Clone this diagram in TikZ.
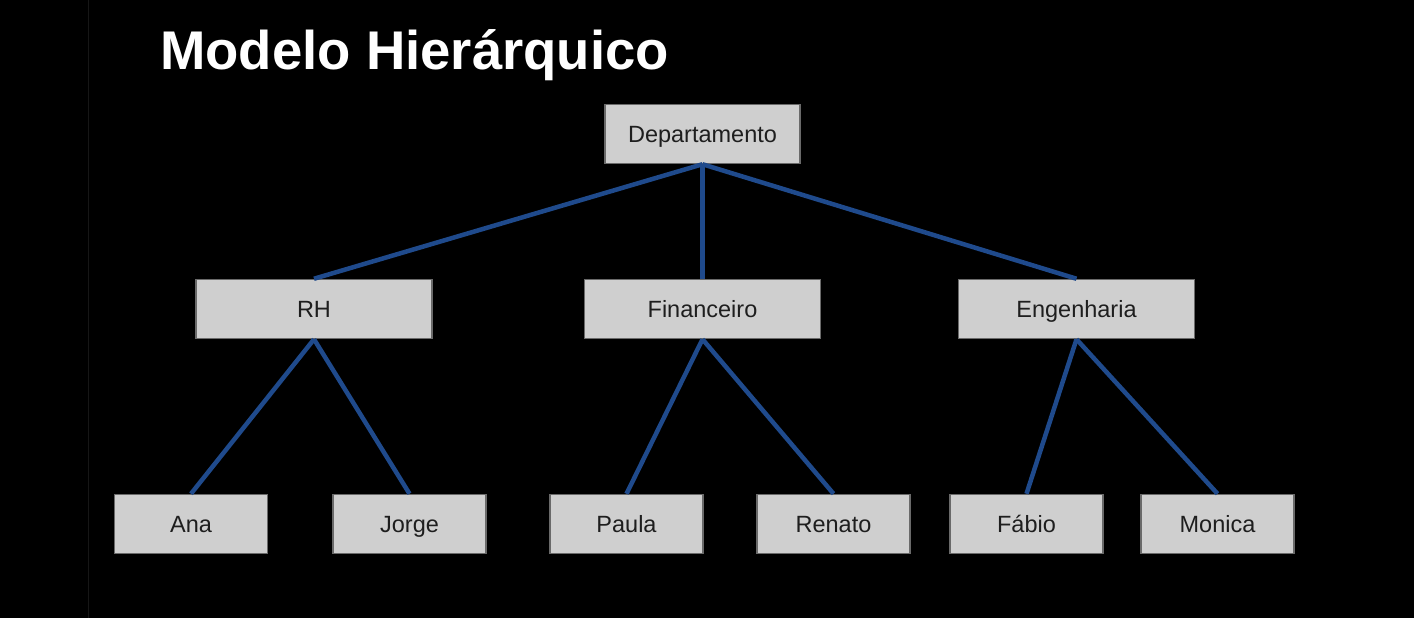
\documentclass[tikz,border=0pt]{standalone}
\usepackage{fontspec}
\setmainfont{Liberation Sans}
\definecolor{boxfill}{HTML}{CFCFCF}
\definecolor{boxline}{HTML}{6A6A6A}
\definecolor{linkblue}{HTML}{1F4A8C}
\definecolor{txt}{HTML}{1E1E1E}
\definecolor{edge}{HTML}{161616}
\begin{document}
\begin{tikzpicture}[x=1pt,y=-1pt,
  box/.style={draw=boxline,line width=1.5pt,fill=boxfill,inner sep=0pt,
    minimum height=59pt,text=txt,text height=16.8pt,text depth=0pt,
    font=\fontsize{23.5}{28}\selectfont},
  wide/.style={box,minimum width=236pt},
  narrow/.style={box,minimum width=153pt},
  link/.style={draw=linkblue,line width=4.5pt}]
\fill[black] (0,0) rectangle (1414,618);
\useasboundingbox (0,0) rectangle (1414,618);
\coordinate (et) at (88,0);
\coordinate (eb) at (88,618);
\draw[edge,line width=1pt] (et) -- (eb);
\node[anchor=base west,inner sep=0pt,text=white,font=\fontsize{54.5}{60}\selectfont\bfseries] (title) at (160,70) {Modelo Hierárquico};
\node[box,minimum width=195pt] (dep) at (702.5,134) {Departamento};
\node[wide] (rh) at (314,309) {RH};
\node[wide] (fin) at (702.5,309) {Financeiro};
\node[wide] (eng) at (1076.5,309) {Engenharia};
\node[narrow] (ana) at (191,524) {Ana};
\node[narrow] (jorge) at (409.5,524) {Jorge};
\node[narrow] (paula) at (626.5,524) {Paula};
\node[narrow] (renato) at (833.5,524) {Renato};
\node[narrow] (fabio) at (1026.5,524) {Fábio};
\node[narrow] (monica) at (1217.5,524) {Monica};
\draw[link] (dep.south) -- (rh.north);
\draw[link] (dep.south) -- (fin.north);
\draw[link] (dep.south) -- (eng.north);
\draw[link] (rh.south) -- (ana.north);
\draw[link] (rh.south) -- (jorge.north);
\draw[link] (fin.south) -- (paula.north);
\draw[link] (fin.south) -- (renato.north);
\draw[link] (eng.south) -- (fabio.north);
\draw[link] (eng.south) -- (monica.north);
\end{tikzpicture}
\end{document}
